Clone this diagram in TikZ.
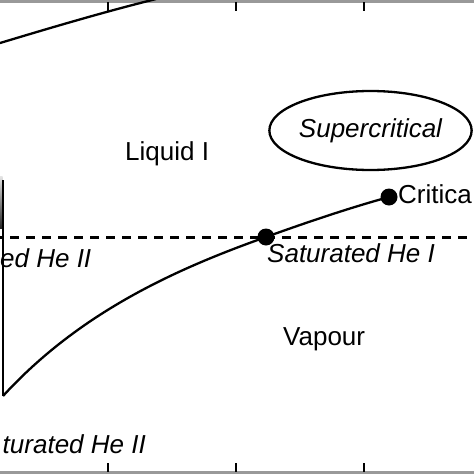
\documentclass[tikz,border=0pt]{standalone}
\usepackage{fontspec}
\setmainfont{Liberation Sans}
\usetikzlibrary{shapes.geometric}
\tikzset{
  lbl/.style={font=\fontsize{26}{31}\selectfont, inner sep=0pt},
  ilbl/.style={font=\fontsize{26}{31}\selectfont\itshape, inner sep=0pt},
  curve/.style={line width=2.3pt, black},
  dot/.style={circle, fill=black, minimum size=17pt, inner sep=0pt},
  tick/.style={line width=2.2pt, black},
  frame/.style={fill=black!40, draw=none}
}
\begin{document}
\begin{tikzpicture}[x=1pt, y=-1pt]
\useasboundingbox (0,0) rectangle (474,474);
\fill[white] (0,0) rectangle (474,474);
\begin{scope}
\clip (0,0) rectangle (474,474);
% frame
\fill[frame] (0,0) rectangle (474,2.8);
\fill[frame] (0,471.2) rectangle (474,474);
\foreach \x in {108,236,364} {
  \draw[tick] (\x,2) -- (\x,11);
  \draw[tick] (\x,463) -- (\x,472);
}
% melting curve
\coordinate (mA) at (-1,43.3);
\coordinate (mB) at (156,-1);
\draw[curve] (mA) .. controls (50,28) and (100,13) .. (mB);
% lambda line
\coordinate (lamTop) at (3,180);
\coordinate (lam) at (3,396);
\shade[top color=black!10, bottom color=black!85] (0,176) rectangle (2.6,228);
\draw[curve] (lamTop) -- (lam);
% dashed line
\coordinate (dL) at (0,237.5);
\coordinate (dR) at (474,237.5);
\draw[line width=2.1pt, dash pattern=on 8.5pt off 7.5pt, dash phase=6pt] (dL) -- (dR);
% dots
\node[dot] (sat) at (266,237) {};
\node[dot] (crit) at (389,197) {};
% vapour pressure curve
\draw[curve] (lam) .. controls (80,312) and (176,269) .. (sat.center)
  .. controls (306,222.6) and (349,208) .. (crit.center);
% ellipse
\node[ellipse, draw, line width=2.3pt, minimum width=202pt, minimum height=79pt,
      inner sep=0pt, font=\fontsize{26}{31}\selectfont\itshape] (sc) at (370.5,130.5) {Supercritical};
% labels
\node[lbl, anchor=base west] (liq) at (125,160) {Liquid I};
\node[lbl, anchor=base west] (vap) at (283,345) {Vapour};
\node[lbl, anchor=base west] (crl) at (398,203) {Critica};
\node[ilbl, anchor=base west] (shi) at (267,262) {Saturated He I};
\node[ilbl, anchor=base west] (sh2a) at (0,267) {ed He II};
\node[ilbl, anchor=base east] (sh2b) at (146,453) {turated He II};
\end{scope}
\end{tikzpicture}
\end{document}
